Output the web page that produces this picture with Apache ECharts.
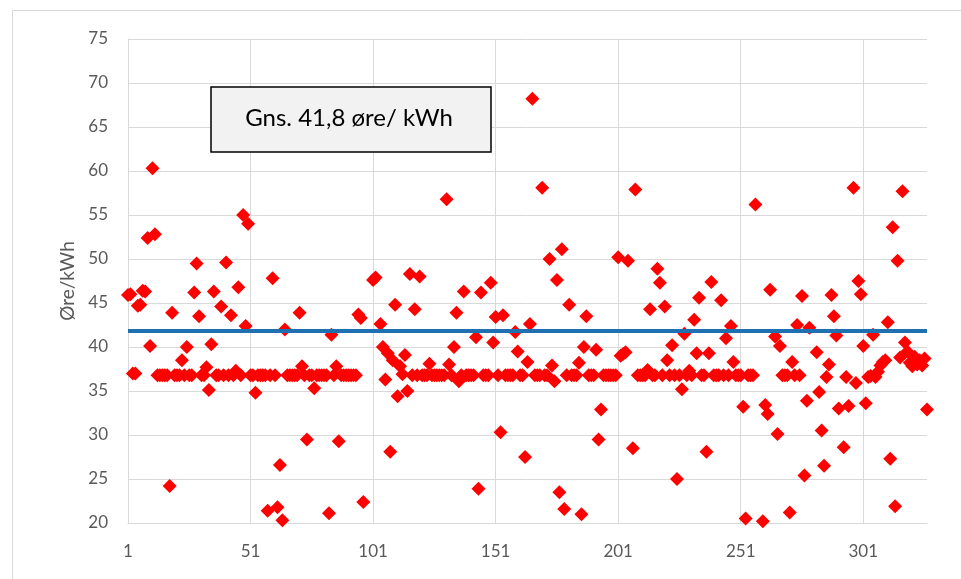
<!DOCTYPE html>
<html><head><meta charset="utf-8">
<script src="https://cdn.jsdelivr.net/npm/echarts@6/dist/echarts.min.js"></script>
<style>html,body{margin:0;padding:0;background:#fff}#c{width:961px;height:579px}</style>
</head><body><div id="c"></div>
<script>
const dayCount = 327;
const days = Array.from({length: dayCount}, (_, i) => String(i + 1));
const prices = [
  45.9, 46.0, 37.0, 37.0, 44.7, 44.8, 46.4, 46.3, 52.4, 40.1,
  60.3, 52.8, 36.8, 36.8, 36.8, 36.8, 36.8, 24.2, 43.9, 36.8,
  36.8, 36.8, 38.5, 36.8, 40.0, 36.8, 36.8, 46.2, 49.5, 43.5,
  36.8, 36.8, 37.7, 35.1, 40.3, 46.3, 36.8, 36.8, 44.6, 36.8,
  49.6, 36.8, 43.6, 36.8, 37.3, 46.8, 36.8, 55.0, 42.4, 54.0,
  36.8, 36.8, 34.8, 36.8, 36.8, 36.8, 36.8, 21.4, 36.8, 47.8,
  36.8, 21.8, 26.6, 20.3, 42.0, 36.8, 36.8, 36.8, 36.8, 36.8,
  43.9, 37.8, 36.8, 29.5, 36.8, 36.8, 35.3, 36.8, 36.8, 36.8,
  36.8, 36.8, 21.1, 41.4, 36.8, 37.8, 29.3, 36.8, 36.8, 36.8,
  36.8, 36.8, 36.8, 36.8, 43.7, 43.3, 22.4, null, null, null,
  47.6, 47.9, null, 42.6, 40.0, 36.3, 39.3, 28.1, 38.5, 44.8,
  34.4, 37.8, 36.9, 39.1, 35.0, 48.3, 36.8, 44.3, 36.8, 48.0,
  36.8, 36.8, 36.8, 38.1, 36.8, 36.8, 36.8, 36.8, 36.8, 36.8,
  56.8, 38.0, 36.8, 40.0, 43.9, 36.1, 36.8, 46.3, 36.8, 36.8,
  36.8, 36.8, 41.1, 23.9, 46.2, 36.8, 36.8, 36.8, 47.3, 40.5,
  43.4, 36.8, 30.3, 43.6, 36.8, 36.8, 36.8, 36.8, 41.7, 39.5,
  36.8, 36.8, 27.5, 38.3, 42.6, 68.2, 36.8, 36.8, 36.8, 58.1,
  36.8, 36.8, 50.0, 37.9, 36.1, 47.6, 23.5, 51.1, 21.6, 36.8,
  44.8, 36.8, 36.8, 36.8, 38.2, 21.0, 40.0, 43.5, 36.8, 36.8,
  36.8, 39.7, 29.5, 32.9, 36.8, 36.8, 36.8, 36.8, 36.8, 36.8,
  50.2, 39.0, 39.2, 39.4, 49.8, null, 28.5, 57.9, 36.8, 36.8,
  36.8, 36.8, 37.4, 44.3, 36.8, 36.8, 48.9, 47.3, 36.8, 44.6,
  38.5, 36.8, 40.2, 36.8, 25.0, 36.8, 35.2, 41.5, 36.8, 37.3,
  36.8, 43.1, 39.3, 45.6, 36.8, 36.8, 28.1, 39.3, 47.4, 36.8,
  36.8, 36.8, 45.3, 36.8, 41.0, 36.8, 42.4, 38.3, 36.8, 36.8,
  36.8, 33.2, 20.5, 36.8, 36.8, 36.8, 56.2, null, null, 20.2,
  33.4, 32.4, 46.5, null, 41.2, 30.1, 40.1, 36.8, 36.8, 36.8,
  21.2, 38.3, 36.8, 42.5, 36.8, 45.8, 25.4, 33.9, 42.2, null,
  null, 39.4, 34.9, 30.5, 26.5, 36.6, 38.0, 45.9, 43.5, 41.3,
  33.0, null, 28.6, 36.6, 33.3, null, 58.1, 35.9, 47.5, 46.0,
  40.1, 33.6, 36.6, 36.7, 41.4, 36.6, 37.2, 37.9, 38.3, 38.5,
  42.8, 27.3, 53.6, 21.9, 49.8, 38.8, 57.7, 40.5, 39.5, 38.2,
  37.8, 38.9, 38.0, 38.5, 37.9, 38.7, 32.9
];
const averagePrice = 41.8;
const averageLabel = 'Gns. 41,8 øre/ kWh';
const yAxisTitle = 'Øre/kWh';
const yMin = 20, yMax = 75, yStep = 5;
const xLabelStep = 50;

const chart = echarts.init(document.getElementById('c'), null, {renderer: 'canvas'});
const grey = '#d9d9d9';
const txt = '#595959';
chart.setOption({
  animation: false,
  backgroundColor: '#ffffff',
  grid: {left: 128, right: 34, top: 39, bottom: 56},
  xAxis: {
    type: 'category',
    data: days,
    boundaryGap: false,
    axisLine: {show: true, lineStyle: {color: grey, width: 1}},
    axisTick: {show: false},
    axisLabel: {interval: xLabelStep - 1, color: txt, fontSize: 17, fontFamily: 'Lato', margin: 20},
    splitLine: {show: true, interval: xLabelStep - 1, lineStyle: {color: grey, width: 1}}
  },
  yAxis: {
    type: 'value',
    min: yMin, max: yMax, interval: yStep,
    name: yAxisTitle,
    nameLocation: 'middle',
    nameGap: 44,
    nameTextStyle: {color: txt, fontSize: 19, fontFamily: 'Lato'},
    axisLine: {show: true, lineStyle: {color: grey, width: 1}},
    axisTick: {show: false},
    axisLabel: {color: txt, fontSize: 17, fontFamily: 'Lato', margin: 20},
    splitLine: {show: true, lineStyle: {color: grey, width: 1}}
  },
  series: [{
    type: 'scatter',
    data: prices,
    symbol: 'diamond',
    symbolSize: 14,
    itemStyle: {color: '#ff0000', opacity: 1},
    markLine: {
      silent: true,
      symbol: 'none',
      label: {show: false},
      lineStyle: {color: '#1f70b0', width: 4, type: 'solid'},
      data: [{yAxis: averagePrice}]
    }
  }],
  graphic: [
    {type: 'rect', shape: {x: 12.5, y: 10.5, width: 1000, height: 700}, style: {fill: 'none', stroke: grey, lineWidth: 1}, z: -1},
    {type: 'rect', shape: {x: 211, y: 87, width: 280, height: 65}, style: {fill: '#f2f2f2', stroke: '#000', lineWidth: 1.5}, z: 100},
    {type: 'text', x: 349, y: 118, style: {text: averageLabel, fill: '#000', font: '24px Lato', align: 'center', verticalAlign: 'middle'}, z: 101}
  ]
});
</script></body></html>
